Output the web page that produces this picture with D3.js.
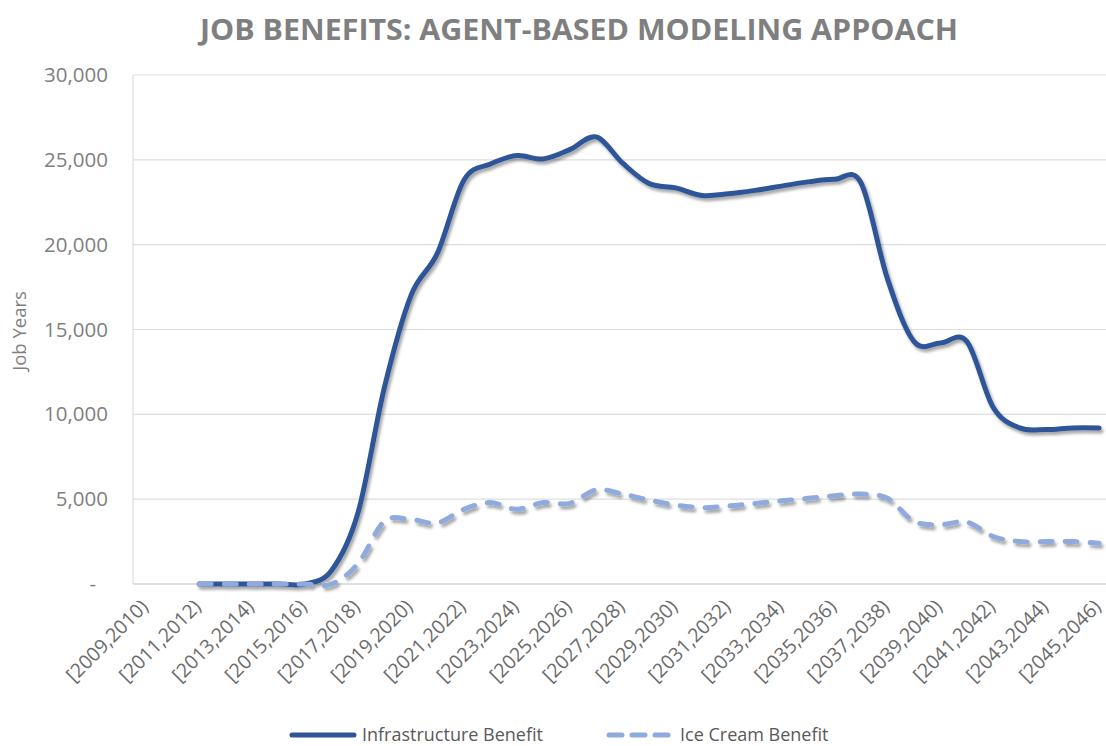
<!DOCTYPE html>
<html>
<head>
<meta charset="utf-8">
<script src="https://cdn.jsdelivr.net/npm/d3@7"></script>
<style>
  html, body { margin: 0; padding: 0; background: #ffffff; }
  svg { display: block; }
  text { font-family: "Open Sans", "Noto Sans", sans-serif; }
</style>
</head>
<body>
<svg id="chart" width="1106" height="746"></svg>
<script>
// ---- data ----
const categories = [
  "[2009,2010)","[2010,2011)","[2011,2012)","[2012,2013)","[2013,2014)","[2014,2015)",
  "[2015,2016)","[2016,2017)","[2017,2018)","[2018,2019)","[2019,2020)","[2020,2021)",
  "[2021,2022)","[2022,2023)","[2023,2024)","[2024,2025)","[2025,2026)","[2026,2027)",
  "[2027,2028)","[2028,2029)","[2029,2030)","[2030,2031)","[2031,2032)","[2032,2033)",
  "[2033,2034)","[2034,2035)","[2035,2036)","[2036,2037)","[2037,2038)","[2038,2039)",
  "[2039,2040)","[2040,2041)","[2041,2042)","[2042,2043)","[2043,2044)","[2044,2045)",
  "[2045,2046)"
];
const tickLabels = [
  "[2009,2010)","[2011,2012)","[2013,2014)","[2015,2016)","[2017,2018)","[2019,2020)",
  "[2021,2022)","[2023,2024)","[2025,2026)","[2027,2028)","[2029,2030)","[2031,2032)",
  "[2033,2034)","[2035,2036)","[2037,2038)","[2039,2040)","[2041,2042)","[2043,2044)",
  "[2045,2046)"
];
const infrastructureBenefit = [
  null, null, 0, 0, 0, 0, 0, 800, 4200, 11600, 17000, 19500, 23800, 24750, 25250, 25050,
  25600, 26350, 24800, 23600, 23350, 22900, 23000, 23200, 23450, 23700, 23850, 23650,
  18000, 14300, 14200, 14300, 10400, 9200, 9100, 9200, 9200
];
const iceCreamBenefit = [
  null, null, 0, 0, 0, 0, 0, 0, 1200, 3700, 3800, 3600, 4400, 4800, 4400, 4800,
  4750, 5550, 5300, 4950, 4650, 4500, 4600, 4750, 4900, 5050, 5200, 5300,
  5050, 3700, 3500, 3650, 2800, 2500, 2500, 2500, 2400
];
const yTicks = [0, 5000, 10000, 15000, 20000, 25000, 30000];
const seriesNames = ["Infrastructure Benefit", "Ice Cream Benefit"];
const titleText = "JOB BENEFITS: AGENT-BASED MODELING APPOACH";
const yTitle = "Job Years";

// ---- layout ----
const W = 1106, H = 746;
const plot = { left: 133, top: 75, bottom: 584 };
const step = 26.47;
const plotRight = plot.left + step * categories.length;

const svg = d3.select("#chart");

const defs = svg.append("defs");
const f = defs.append("filter").attr("id", "shadow")
  .attr("x", "-5%").attr("y", "-5%").attr("width", "115%").attr("height", "120%");
f.append("feDropShadow").attr("dx", 2).attr("dy", 3).attr("stdDeviation", 1.6)
  .attr("flood-color", "#000").attr("flood-opacity", 0.35);

const x = d3.scaleBand().domain(categories).range([plot.left, plotRight]).paddingInner(0).paddingOuter(0);
const cx = c => x(c) + x.bandwidth() / 2;
const y = d3.scaleLinear().domain([0, 30000]).range([plot.bottom, plot.top]);

// gridlines
svg.append("g").selectAll("line").data(yTicks.filter(d => d > 0)).join("line")
  .attr("x1", plot.left).attr("x2", plotRight)
  .attr("y1", d => y(d)).attr("y2", d => y(d))
  .attr("stroke", "#dedede").attr("stroke-width", 1.2);

// left border
svg.append("line").attr("x1", plot.left).attr("x2", plot.left)
  .attr("y1", plot.top).attr("y2", plot.bottom)
  .attr("stroke", "#dedede").attr("stroke-width", 1.2);

// y axis labels
const yAxis = d3.axisLeft(y).tickValues(yTicks).tickSize(0).tickPadding(0)
  .tickFormat(d => d === 0 ? "-" : d3.format(",")(d));
const yg = svg.append("g").attr("transform", `translate(108,0)`).call(yAxis);
yg.select(".domain").remove();
yg.selectAll("text").attr("font-size", 20.5).attr("fill", "#808080")
  .attr("font-family", "'Open Sans', sans-serif")
  .attr("dx", d => d === 0 ? -12 : 0);

// x axis
const xAxis = d3.axisBottom(x).tickValues(tickLabels).tickSize(0).tickPadding(0);
const xg = svg.append("g").attr("transform", `translate(0,${plot.bottom})`).call(xAxis);
xg.select(".domain").attr("stroke", "#d4d4d4").attr("stroke-width", 1.5)
  .attr("d", `M${plot.left},0H${plotRight}`);
xg.selectAll(".tick text")
  .attr("font-size", 19.5).attr("fill", "#6b6b6b")
  .attr("font-family", "'Open Sans', sans-serif")
  .attr("text-anchor", "end")
  .attr("y", 0).attr("dy", 0)
  .attr("transform", "translate(3,24) rotate(-45)");

// lines
const line = d3.line()
  .defined(d => d.v !== null)
  .x(d => cx(d.c))
  .y(d => y(d.v))
  .curve(d3.curveCatmullRom.alpha(0));

const infraData = categories.map((c, i) => ({ c, v: infrastructureBenefit[i] }));
const iceData = categories.map((c, i) => ({ c, v: iceCreamBenefit[i] }));

const lines = svg.append("g").attr("filter", "url(#shadow)");
lines.append("path").datum(infraData).attr("d", line)
  .attr("fill", "none").attr("stroke", "#2F5597").attr("stroke-width", 5)
  .attr("stroke-linejoin", "round").attr("stroke-linecap", "round");
lines.append("path").datum(iceData).attr("d", line)
  .attr("fill", "none").attr("stroke", "#8FAADC").attr("stroke-width", 5)
  .attr("stroke-dasharray", "12,13").attr("stroke-linecap", "round");

// title
svg.append("text").attr("x", 579).attr("y", 40).attr("text-anchor", "middle")
  .attr("font-size", 29).attr("font-weight", "bold").attr("fill", "#7f7f7f")
  .attr("textLength", 758).attr("lengthAdjust", "spacingAndGlyphs")
  .text(titleText);

// y title
svg.append("text").attr("transform", "translate(26,331) rotate(-90)")
  .attr("text-anchor", "middle").attr("font-size", 18.5).attr("fill", "#7f7f7f")
  .text(yTitle);

// legend
const lg = svg.append("g");
lg.append("line").attr("x1", 292).attr("x2", 354).attr("y1", 735).attr("y2", 735)
  .attr("stroke", "#2F5597").attr("stroke-width", 5).attr("stroke-linecap", "round");
lg.append("text").attr("x", 362).attr("y", 741).attr("font-size", 18).attr("fill", "#595959")
  .text(seriesNames[0]);
lg.append("line").attr("x1", 609).attr("x2", 668).attr("y1", 735).attr("y2", 735)
  .attr("stroke", "#8FAADC").attr("stroke-width", 5).attr("stroke-linecap", "round")
  .attr("stroke-dasharray", "13,10");
lg.append("text").attr("x", 680).attr("y", 741).attr("font-size", 18).attr("fill", "#595959")
  .text(seriesNames[1]);
</script>
</body>
</html>
